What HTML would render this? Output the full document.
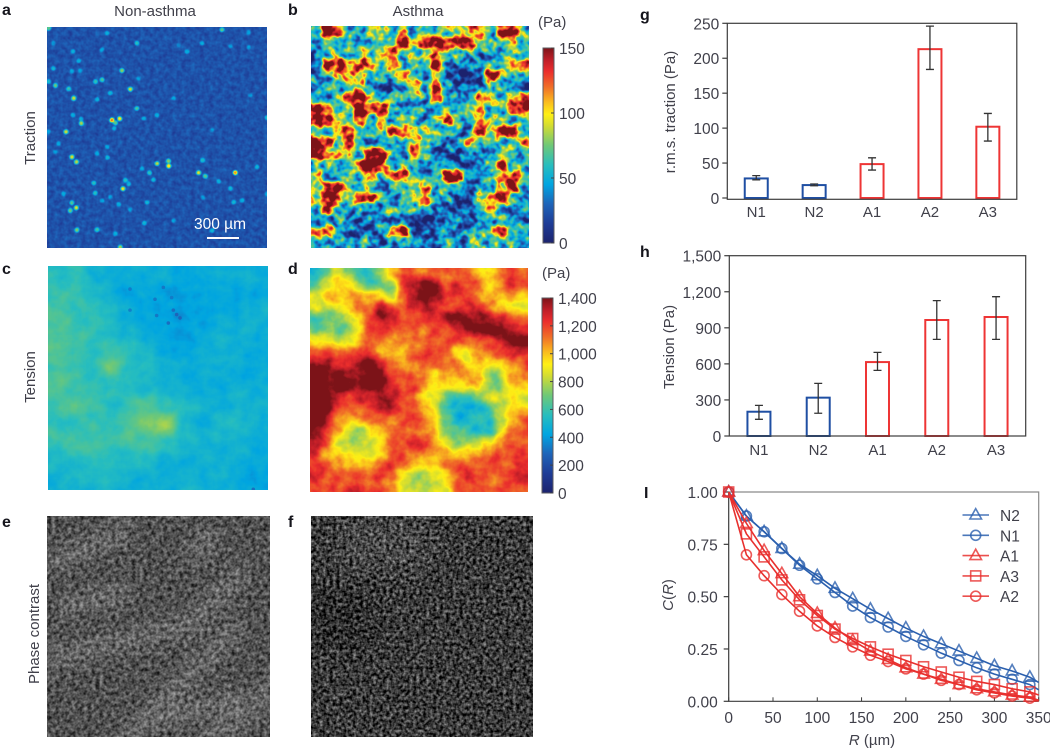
<!DOCTYPE html>
<html lang="en">
<head>
<meta charset="utf-8">
<title>Traction and tension maps, non-asthma vs asthma</title>
<style>
  html, body { margin: 0; padding: 0; background: #fff; }
  svg { display: block; }
  text { font-family: "Liberation Sans", sans-serif; fill: #40404a; font-size: 15px; }
  .letter { font-weight: bold; font-size: 16px; fill: #15151c; }
</style>
</head>
<body>
<svg id="figure" xmlns="http://www.w3.org/2000/svg" width="1050" height="750" viewBox="0 0 1050 750">
  <defs id="defs"></defs>

  <text class="letter" x="2" y="15">a</text>
  <text class="letter" x="288" y="15">b</text>
  <text class="letter" x="2" y="274">c</text>
  <text class="letter" x="288" y="274">d</text>
  <text class="letter" x="2" y="527">e</text>
  <text class="letter" x="288" y="527">f</text>
  <text class="letter" x="640" y="20">g</text>
  <text class="letter" x="640" y="257">h</text>
  <text class="letter" x="644" y="498">I</text>

  <text x="155" y="16" text-anchor="middle">Non-asthma</text>
  <text x="418" y="16" text-anchor="middle">Asthma</text>
  <text transform="translate(35,138) rotate(-90)" text-anchor="middle">Traction</text>
  <text transform="translate(35,377) rotate(-90)" text-anchor="middle">Tension</text>
  <text transform="translate(39,634) rotate(-90)" text-anchor="middle">Phase contrast</text>
  <text x="538" y="27">(Pa)</text>
  <text x="542" y="278">(Pa)</text>

  <g id="heatmaps"></g>

  <text x="194" y="229" style="fill:#fff;font-size:15.5px">300 µm</text>
  <rect x="207" y="237" width="32" height="2" fill="#fff"></rect>

  <g id="colorbars"></g>
  <g id="charts"></g>

  <text transform="translate(675,112) rotate(-90)" text-anchor="middle">r.m.s. traction (Pa)</text>
  <text transform="translate(674,347) rotate(-90)" text-anchor="middle">Tension (Pa)</text>
  <text transform="translate(673,595) rotate(-90)" text-anchor="middle"><tspan font-style="italic">C</tspan>(<tspan font-style="italic">R</tspan>)</text>
  <text x="872" y="745" text-anchor="middle"><tspan font-style="italic">R</tspan> (µm)</text>
</svg>

<script>
/* ---------- bar chart data ---------- */
const barCategories = ['N1', 'N2', 'A1', 'A2', 'A3'];
const tractionMeans = [28, 18.5, 48.5, 213, 102];
const tractionErrLow = [26, 17.5, 40, 184, 81.5];
const tractionErrHigh = [32, 20, 57.5, 246, 121];
const tractionTicks = [0, 50, 100, 150, 200, 250];
const tensionMeans = [202, 319, 615, 965, 990];
const tensionErrLow = [139, 189, 546, 804, 804];
const tensionErrHigh = [255, 438, 696, 1126, 1159];
const tensionTicks = [0, 300, 600, 900, 1200, 1500];
const tensionTickLabels = ['0', '300', '600', '900', '1,200', '1,500'];

/* ---------- correlation chart data ---------- */
const corrDistances = [0, 20, 40, 60, 80, 100, 120, 140, 160, 180, 200, 220, 240, 260, 280, 300, 320, 340];
const corrN2 = [1, .885, .81, .73, .655, .60, .54, .49, .44, .395, .35, .31, .275, .24, .205, .17, .145, .115];
const corrN1 = [1, .885, .81, .73, .65, .585, .52, .455, .40, .355, .31, .27, .23, .195, .16, .13, .105, .08];
const corrA1 = [1, .85, .72, .61, .50, .42, .35, .29, .24, .20, .16, .13, .105, .08, .06, .045, .03, .02];
const corrA3 = [1, .80, .69, .58, .485, .41, .345, .30, .26, .225, .195, .165, .14, .115, .095, .08, .06, .045];
const corrA2 = [1, .70, .60, .51, .43, .36, .305, .26, .22, .19, .155, .13, .10, .08, .055, .04, .025, .015];
const corrLineEnds = [0.09, 0.055, 0.005, 0.03, 0];
const corrXTicks = [0, 50, 100, 150, 200, 250, 300, 350];
const corrYTicks = [0, 0.25, 0.5, 0.75, 1];
const corrYTickLabels = ['0.00', '0.25', '0.50', '0.75', '1.00'];
const corrNames = ['N2', 'N1', 'A1', 'A3', 'A2'];
const corrMarkers = ['triangle', 'circle', 'triangle', 'square', 'circle'];

/* ---------- colorbar data ---------- */
const tractionBarTicks = [0, 50, 100, 150];
const tensionBarTicks = [0, 200, 400, 600, 800, 1000, 1200, 1400];
const tensionBarLabels = ['0', '200', '400', '600', '800', '1,000', '1,200', '1,400'];

/* ---------- heatmap data (Pa) ---------- */
const tractionAsthmaGrid = [
[60,140,110,60,50,80,80,60,90,50,60,70,70,90,90,100,60,120,130,70],
[60,70,60,50,70,60,70,70,145,80,130,145,110,130,120,90,60,70,90,60],
[40,70,70,60,70,70,90,110,60,70,70,100,70,60,60,50,60,50,80,60],
[40,120,130,100,120,100,70,100,60,70,60,130,60,40,50,50,60,60,100,110],
[50,60,90,100,80,60,60,70,100,70,50,80,40,30,30,50,130,90,60,50],
[50,60,60,70,100,40,40,30,70,100,60,120,50,40,35,40,60,60,50,40],
[60,50,70,120,130,90,60,80,50,60,60,110,60,50,50,110,90,60,100,120],
[130,110,60,80,145,100,130,60,50,60,60,50,70,60,80,90,60,70,110,120],
[120,120,100,60,120,60,90,50,70,60,50,70,120,70,60,100,80,60,60,60],
[60,60,90,130,60,60,70,130,100,90,80,70,60,50,50,130,90,130,130,60],
[140,120,60,120,70,50,50,50,70,100,70,60,40,50,100,70,60,60,70,90],
[140,100,100,80,60,130,130,70,40,110,60,40,40,40,50,40,50,70,70,60],
[60,70,50,60,120,145,120,50,70,60,40,60,60,40,40,50,70,110,60,50],
[80,50,60,70,60,100,70,110,110,70,50,60,130,130,60,50,60,100,120,80],
[80,120,130,70,60,70,40,60,70,70,100,60,70,60,40,50,50,100,130,60],
[80,130,110,70,120,120,70,50,60,90,110,60,60,40,30,90,90,130,70,50],
[60,120,70,50,60,50,50,70,60,60,60,50,40,30,40,60,110,60,50,50],
[40,50,60,40,40,50,50,40,40,30,30,40,50,50,40,40,50,60,50,50],
[100,110,60,50,40,40,50,100,130,40,30,50,60,40,50,60,90,120,70,60],
[60,60,50,50,60,50,40,50,60,50,40,40,60,50,60,70,60,60,60,50]
];
const tensionAsthmaGrid = [
[550,700,900,800,600,620,800,1000,1150,1150,1100,1100,1100,1150,1100,1000,950,1100,1200,1100],
[650,850,950,950,800,700,650,750,1150,1300,1400,1400,1150,1250,1150,1150,900,1050,1250,1150],
[900,1000,1050,1000,1000,1000,900,800,1100,1350,1400,1350,1150,1150,1150,1100,950,1000,1050,950],
[850,800,850,1000,1100,1150,1300,1150,1150,1200,1350,1200,1200,1200,1250,1200,1100,950,950,900],
[650,700,750,850,950,1150,1350,1350,1150,1150,1150,1200,1350,1350,1350,1350,1350,1200,1100,1050],
[700,750,700,700,950,1150,1150,1150,1150,1150,1100,1150,1150,1250,1350,1350,1400,1400,1350,1250],
[950,950,800,900,1050,1150,1100,1050,1050,1100,1100,1150,1150,1150,1150,1150,1150,1300,1400,1400],
[1150,1150,1100,1100,1200,1100,1050,950,1000,1100,1150,1150,1150,950,850,1100,1150,1150,1200,1250],
[1300,1300,1200,1200,1350,1400,1300,1050,1050,1100,1150,1150,1100,1050,950,1000,900,950,1100,1150],
[1400,1400,1400,1300,1300,1400,1350,1150,1150,1150,1100,900,1000,1100,1050,950,750,800,1050,1100],
[1400,1400,1400,1400,1350,1400,1400,1200,1150,1200,1050,950,950,950,950,1000,750,700,950,1000],
[1400,1400,1300,1150,1350,1200,1350,1300,1150,1150,950,900,650,600,620,750,900,850,950,800],
[1400,1400,1150,1150,1100,1150,1300,1350,1150,1150,950,900,650,530,520,560,650,850,1000,1000],
[1400,1350,1100,1000,1000,1100,1100,1100,1150,1150,1100,950,750,520,560,560,550,800,1000,1100],
[1400,1250,1000,850,800,950,1000,1100,1150,1150,1100,950,700,650,620,560,600,900,1050,1150],
[1300,1150,900,800,800,850,900,1100,1150,1200,1150,1000,850,800,800,800,900,1050,1150,1150],
[1250,1000,950,900,850,850,950,1150,1150,1150,1150,1100,1000,950,950,1000,1100,1150,1150,1200],
[1150,1150,1050,1000,1000,1000,1100,1200,1150,1000,950,950,1100,1150,1150,1150,1150,1150,1150,1200],
[1250,1150,1150,1150,1150,1150,1200,1100,900,800,800,850,950,1150,1200,1150,1150,1150,1200,1250],
[1150,1150,1150,1200,1200,1150,1150,1050,900,800,800,850,900,1150,1150,1150,1150,1150,1150,1150]
];
const tensionControlGrid = [
[560,560,500,460,460,470,450,440,460,470,470,450],
[580,600,540,480,440,430,420,410,430,440,440,440],
[640,580,560,520,450,430,410,400,420,440,470,470],
[620,600,580,540,500,440,420,420,430,470,500,470],
[640,620,560,600,560,500,440,440,470,500,470,440],
[620,580,560,690,540,530,480,450,470,470,450,440],
[640,600,590,560,540,500,490,480,450,450,470,470],
[600,640,600,540,620,660,580,520,500,490,500,500],
[580,560,600,560,640,720,780,520,460,520,520,480],
[590,620,620,600,620,620,560,500,500,500,480,450],
[520,540,560,540,520,520,470,480,480,500,470,450],
[470,500,520,510,480,480,470,490,480,470,440,420]
];
/* local spots: [column, row, value] on a 0–660 panel grid */
const tractionControlSpots = [
[270,48,60],[525,8,70],[78,73,50],[95,101,50],[225,130,80],[165,68,45],[20,123,50],[75,133,45],[100,130,45],
[145,163,60],[165,158,70],[25,175,70],[65,185,60],[250,186,85],[190,198,50],[275,153,45],[80,213,90],[150,216,50],
[270,243,70],[290,273,50],[78,263,50],[103,275,50],[103,288,85],[195,278,120],[218,274,100],[205,286,70],[202,303,50],
[57,313,90],[180,358,50],[75,388,95],[88,403,85],[150,378,45],[182,390,50],[330,263,50],[330,408,90],[365,415,100],
[365,400,75],[308,435,60],[285,423,45],[455,435,90],[475,446,70],[565,435,115],[467,398,60],[140,466,65],[235,458,55],
[228,483,95],[245,468,50],[320,456,50],[145,496,60],[50,498,50],[75,525,70],[88,540,90],[70,548,70],[165,518,45],
[215,530,50],[190,508,45],[300,523,50],[250,546,45],[515,461,50],[550,483,50],[585,518,50],[560,523,50],[468,510,45],
[90,606,80],[150,606,65],[205,618,50],[292,586,55],[220,658,85],[495,608,55],[380,578,45],[380,213,45],[420,73,50],
[465,48,45],[550,58,45],[605,16,45],[605,61,45],[610,203,40],[495,308,40],[660,270,60],[630,418,50],[660,498,50],
[5,3,75],[20,48,45],[5,163,55],[35,348,50],[5,313,45],[180,18,45],[395,53,40],[25,373,40]
];
const tensionControlSpots = [
[386,143,280],[346,63,320],[246,68,330],[321,98,320],[371,93,330],[326,146,320],[361,168,300],[616,658,300],
[396,153,280],[376,130,300],[246,130,340]
];

/* ---------- colour map shared by the heat panels ---------- */
const jetPositions = [0, .1, .2, .3, .4, .5, .6, .66, .72, .8, .88, .94, 1];
const jetRed = [28, 30, 30, 0, 40, 110, 210, 255, 250, 240, 235, 190, 125];
const jetGreen = [35, 60, 100, 165, 190, 200, 220, 240, 190, 110, 45, 30, 20];
const jetBlue = [110, 150, 185, 225, 190, 120, 50, 20, 30, 40, 45, 40, 25];

const SVG_NS = 'http://www.w3.org/2000/svg';
function el(tag, attrs, parent) {
  const node = document.createElementNS(SVG_NS, tag);
  for (const key in attrs) node.setAttribute(key, attrs[key]);
  if (parent) parent.appendChild(node);
  return node;
}
function jetChannel(channel, t) {
  for (let i = 1; i < jetPositions.length; i++) {
    if (t <= jetPositions[i]) {
      const f = (t - jetPositions[i - 1]) / (jetPositions[i] - jetPositions[i - 1]);
      return channel[i - 1] + f * (channel[i] - channel[i - 1]);
    }
  }
  return channel[channel.length - 1];
}
function jetColor(t) {
  return 'rgb(' + [jetRed, jetGreen, jetBlue].map(c => Math.round(jetChannel(c, t))).join(',') + ')';
}
function jetTable(channel) {
  const out = [];
  for (let i = 0; i <= 96; i++) out.push((jetChannel(channel, i / 96) / 255).toFixed(3));
  return out.join(' ');
}

const defs = document.getElementById('defs');
const heatRoot = document.getElementById('heatmaps');

function makeFilter(id, box, freq, octaves, seed, blur, amp, mapped, gain, offset) {
  const f = el('filter', { id: id, filterUnits: 'userSpaceOnUse', x: box.x - 30, y: box.y - 30,
    width: box.w + 60, height: box.h + 60, 'color-interpolation-filters': 'sRGB' }, defs);
  el('feTurbulence', { type: 'fractalNoise', baseFrequency: freq, numOctaves: octaves, seed: seed, result: 'noise' }, f);
  el('feColorMatrix', { in: 'noise', type: 'matrix', values: '1 0 0 0 0 1 0 0 0 0 1 0 0 0 0 0 0 0 0 1', result: 'grey' }, f);
  el('feGaussianBlur', { in: 'SourceGraphic', stdDeviation: blur, result: 'smooth' }, f);
  el('feComposite', { in: 'smooth', in2: 'grey', operator: 'arithmetic', k1: 0, k2: gain, k3: amp, k4: offset - amp / 2, result: 'mix' }, f);
  if (mapped) {
    const t = el('feComponentTransfer', { in: 'mix' }, f);
    el('feFuncR', { type: 'table', tableValues: jetTable(jetRed) }, t);
    el('feFuncG', { type: 'table', tableValues: jetTable(jetGreen) }, t);
    el('feFuncB', { type: 'table', tableValues: jetTable(jetBlue) }, t);
  }
}
function makePanel(name, box, filterId) {
  const clip = el('clipPath', { id: 'clip-' + name }, defs);
  el('rect', { x: box.x, y: box.y, width: box.w, height: box.h }, clip);
  const outer = el('g', { 'clip-path': 'url(#clip-' + name + ')' }, heatRoot);
  
  
  return el('g', { filter: 'url(#' + filterId + ')' }, outer);
}
function grey(t) {
  const v = Math.round(Math.max(0, Math.min(1, t)) * 255);
  return 'rgb(' + v + ',' + v + ',' + v + ')';
}
function drawGrid(name, box, grid, maxValue, filterId) {
  const g = makePanel(name, box, filterId);
  const rows = grid.length, cols = grid[0].length;
  const cw = box.w / cols, ch = box.h / rows;
  const pad = 3;
  for (let r = -pad; r < rows + pad; r++) {
    for (let c = -pad; c < cols + pad; c++) {
      const value = grid[Math.max(0, Math.min(rows - 1, r))][Math.max(0, Math.min(cols - 1, c))];
      const cell = el('rect', { x: box.x + c * cw, y: box.y + r * ch, width: cw + 0.6, height: ch + 0.6, fill: grey(value / maxValue) }, g);
      
      
    }
  }
  return g;
}
function drawSpots(g, box, spots, colorOf, radius) {
  spots.forEach(function (s) {
    const dot = el('circle', { cx: box.x + s[0] / 660 * box.w, cy: box.y + s[1] / 660 * box.h, r: radius, fill: colorOf(s[2]) }, g);
    
    
  });
}

/* panel a */
const boxA = { x: 47, y: 27, w: 220, h: 221 };
makeFilter('f-a', boxA, 0.22, 2, 3, 0.9, 0.16, true, 1, 0);
const panelA = makePanel('traction-map-non-asthma', boxA, 'f-a');
el('rect', { x: boxA.x - 10, y: boxA.y - 10, width: boxA.w + 20, height: boxA.h + 20, fill: grey(0.155) }, panelA);
drawSpots(panelA, boxA, tractionControlSpots, v => grey(v / 150), 2.3);

/* panel b */
const boxB = { x: 311, y: 26, w: 218, h: 222 };
makeFilter('f-b', boxB, 0.13, 2, 7, 2, 1.0, true, 1.5, -0.24);
drawGrid('traction-map-asthma', boxB, tractionAsthmaGrid, 150, 'f-b');

/* panel c */
const boxC = { x: 48, y: 266, w: 220, h: 224 };
makeFilter('f-c', boxC, 0.07, 3, 11, 5, 0.1, true, 1, 0);
const panelC = drawGrid('tension-map-non-asthma', boxC, tensionControlGrid, 1400, 'f-c');
drawSpots(panelC.parentNode, boxC, tensionControlSpots, v => jetColor(v / 1400), 1.8);

/* panel d */
const boxD = { x: 310, y: 268, w: 218, h: 224 };
makeFilter('f-d', boxD, 0.08, 3, 5, 3.5, 0.2, true, 1.12, -0.08);
drawGrid('tension-map-asthma', boxD, tensionAsthmaGrid, 1400, 'f-d');

/* panel e: phase contrast, diagonal cell streaks */
const boxE = { x: 47, y: 516, w: 223, h: 221 };
makeFilter('f-e', boxE, 0.25, 3, 9, 8, 0.7, false, 1, 0);
const panelE = makePanel('phase-contrast-non-asthma', boxE, 'f-e');
el('rect', { x: boxE.x - 20, y: boxE.y - 20, width: boxE.w + 40, height: boxE.h + 40, fill: 'rgb(80,80,80)' }, panelE);
['M47 660 L190 625 L245 570', 'M122 745 L185 680 L240 625', 'M47 565 L130 530', 'M205 745 L320 650', 'M60 610 L130 590', 'M160 720 L240 700', 'M215 530 L190 560'].forEach(function (d) {
  const band = el('path', { d: d, fill: 'none', stroke: 'rgb(112,112,112)', 'stroke-width': 16 }, panelE);
  
  
});

/* panel f: phase contrast, fine granular */
const boxF = { x: 311, y: 516, w: 222, h: 221 };
makeFilter('f-f', boxF, 0.3, 2, 13, 10, 1.0, false, 1, 0);
const panelF = makePanel('phase-contrast-asthma', boxF, 'f-f');
el('rect', { x: boxF.x - 20, y: boxF.y - 20, width: boxF.w + 40, height: boxF.h + 40, fill: 'rgb(58,58,58)' }, panelF);
el('rect', { x: 311, y: 590, width: 60, height: 60, fill: 'rgb(44,44,44)' }, panelF);
el('rect', { x: 340, y: 520, width: 90, height: 50, fill: 'rgb(74,74,74)' }, panelF);

/* ---------- colour bars ---------- */
const barRoot = document.getElementById('colorbars');
const gradient = el('linearGradient', { id: 'jet-gradient', x1: 0, y1: 1, x2: 0, y2: 0 }, defs);
jetPositions.forEach(function (p) {
  el('stop', { offset: p, 'stop-color': jetColor(p) }, gradient);
});
function drawColorbar(name, x, top, bottom, ticks, labels, maxValue, labelX) {
  const w = 11;
  const bar = el('rect', { x: x, y: top, width: w, height: bottom - top, fill: 'url(#jet-gradient)', stroke: '#5b5b60', 'stroke-width': 1 }, barRoot);
  
  
  ticks.forEach(function (v, i) {
    const y = bottom - v / maxValue * (bottom - top);
    const tick = el('line', { x1: x + w - 3, x2: x + w, y1: y, y2: y, stroke: '#444', 'stroke-width': 1 }, barRoot);
    
    
    const label = el('text', { x: labelX, y: y + 6, style: 'font-size:15.5px' }, barRoot);
    label.textContent = labels[i];
    
    
  });
}
drawColorbar('colorbar-traction', 543, 48, 243, tractionBarTicks, tractionBarTicks.map(String), 150, 559);
drawColorbar('colorbar-tension', 542, 298, 493, tensionBarTicks, tensionBarLabels, 1400, 558);

/* ---------- bar charts ---------- */
const chartRoot = document.getElementById('charts');
const BLUE = '#1f4fa3', RED = '#ee3535', AXIS = '#3c3c3c';

function drawBarChart(name, f, means, lows, highs, ticks, tickLabels, maxValue) {
  const g = el('g', {}, chartRoot);
  
  
  const yScale = v => f.zeroY - v / maxValue * (f.zeroY - f.top);
  const band = (f.right - f.left) / barCategories.length;
  const xScale = i => f.left + band * (i + 0.5);

  barCategories.forEach(function (cat, i) {
    const color = cat.charAt(0) === 'N' ? BLUE : RED;
    const bar = el('rect', { x: xScale(i) - 11.5, y: yScale(means[i]), width: 23, height: yScale(0) - yScale(means[i]),
      fill: 'none', stroke: color, 'stroke-width': 2 }, g);
    
    

    const d = 'M' + xScale(i) + ' ' + yScale(lows[i]) + 'V' + yScale(highs[i]) +
      'M' + (xScale(i) - 4) + ' ' + yScale(lows[i]) + 'H' + (xScale(i) + 4) +
      'M' + (xScale(i) - 4) + ' ' + yScale(highs[i]) + 'H' + (xScale(i) + 4);
    const err = el('path', { d: d, fill: 'none', stroke: '#333', 'stroke-width': 1.3 }, g);
    
    

    const lab = el('text', { x: xScale(i), y: f.labelY, 'text-anchor': 'middle' }, g);
    lab.textContent = cat;
    
    
  });

  ticks.forEach(function (v, i) {
    const tick = el('line', { x1: f.left - 5, x2: f.left, y1: yScale(v), y2: yScale(v), stroke: AXIS, 'stroke-width': 1.2 }, g);
    
    
    const lab = el('text', { x: f.left - 8, y: yScale(v) + 6, 'text-anchor': 'end', style: 'font-size:15.5px' }, g);
    lab.textContent = tickLabels[i];
    
    
  });

  const frame = el('rect', { x: f.left, y: f.top, width: f.right - f.left, height: f.bottom - f.top, fill: 'none', stroke: AXIS, 'stroke-width': 1.2 }, g);
  
  
}
drawBarChart('traction-bar-chart', { left: 727.3, right: 1016.8, top: 23.3, bottom: 199.3, zeroY: 198, labelY: 217 },
  tractionMeans, tractionErrLow, tractionErrHigh, tractionTicks, tractionTicks.map(String), 250);
drawBarChart('tension-bar-chart', { left: 729.3, right: 1025.7, top: 255.7, bottom: 436, zeroY: 436, labelY: 455 },
  tensionMeans, tensionErrLow, tensionErrHigh, tensionTicks, tensionTickLabels, 1500);

/* ---------- correlation chart ---------- */
const corrSeries = [corrN2, corrN1, corrA1, corrA3, corrA2];
const corrG = el('g', {}, chartRoot);


const corrFrame = { left: 728.7, right: 1038.7, top: 492, bottom: 701.3 };
const xCorr = r => corrFrame.left + r / 350 * (corrFrame.right - corrFrame.left);
const yCorr = c => corrFrame.bottom - c * (corrFrame.bottom - corrFrame.top);

function drawMarker(shape, x, y, color, parent, name) {
  let m;
  if (shape === 'circle') {
    m = el('circle', { cx: x, cy: y, r: 5 }, parent);
  } else if (shape === 'square') {
    m = el('rect', { x: x - 5, y: y - 5, width: 10, height: 10 }, parent);
  } else {
    m = el('path', { d: 'M' + x + ' ' + (y - 6.4) + 'L' + (x + 5.8) + ' ' + (y + 4) + 'H' + (x - 5.8) + 'Z' }, parent);
  }
  m.setAttribute('fill', 'none');
  m.setAttribute('stroke', color);
  m.setAttribute('stroke-width', 1.6);
  m.setAttribute('stroke-opacity', 0.8);
  
  
}

const corrFrameRect = el('path', { d: 'M' + corrFrame.left + ' ' + corrFrame.top + 'H' + corrFrame.right + 'V' + corrFrame.bottom, fill: 'none', stroke: '#8a8a8a', 'stroke-width': 1.2 }, corrG);


const corrAxes = el('path', { d: 'M' + corrFrame.left + ' ' + corrFrame.top + 'V' + corrFrame.bottom + 'H' + corrFrame.right, fill: 'none', stroke: AXIS, 'stroke-width': 1.2 }, corrG);



corrXTicks.forEach(function (v) {
  const tick = el('line', { x1: xCorr(v), x2: xCorr(v), y1: corrFrame.bottom - 4, y2: corrFrame.bottom, stroke: AXIS, 'stroke-width': 1 }, corrG);
  
  
  const lab = el('text', { x: xCorr(v), y: 723, 'text-anchor': 'middle', style: 'font-size:15.5px' }, corrG);
  lab.textContent = String(v);
  
  
});
corrYTicks.forEach(function (v, i) {
  const tick = el('line', { x1: corrFrame.left - 5, x2: corrFrame.left, y1: yCorr(v), y2: yCorr(v), stroke: AXIS, 'stroke-width': 1.2 }, corrG);
  
  
  const lab = el('text', { x: corrFrame.left - 11, y: yCorr(v) + 6, 'text-anchor': 'end', style: 'font-size:15.5px' }, corrG);
  lab.textContent = corrYTickLabels[i];
  
  
});

corrSeries.forEach(function (values, s) {
  const name = corrNames[s];
  const color = name.charAt(0) === 'N' ? '#2a5fae' : '#e8302e';
  const pts = values.map((v, i) => xCorr(corrDistances[i]) + ',' + yCorr(v));
  pts.push(xCorr(350) + ',' + yCorr(corrLineEnds[s]));
  const line = el('polyline', { points: pts.join(' '), fill: 'none', stroke: color, 'stroke-width': 1.6 }, corrG);
  
  
  values.forEach(function (v, i) {
    drawMarker(corrMarkers[s], xCorr(corrDistances[i]), yCorr(v), color, corrG, 'marker-' + name);
  });

  const legendY = 515 + s * 20.3;
  const legLine = el('line', { x1: 962.5, x2: 989, y1: legendY, y2: legendY, stroke: color, 'stroke-width': 1.6, 'stroke-opacity': 0.85 }, corrG);
  
  
  drawMarker(corrMarkers[s], 975.7, legendY, color, corrG, 'legend-marker-' + name);
  const legText = el('text', { x: 1000, y: legendY + 6, style: 'font-size:15.5px' }, corrG);
  legText.textContent = name;
  
  
});
</script>
</body>
</html>
